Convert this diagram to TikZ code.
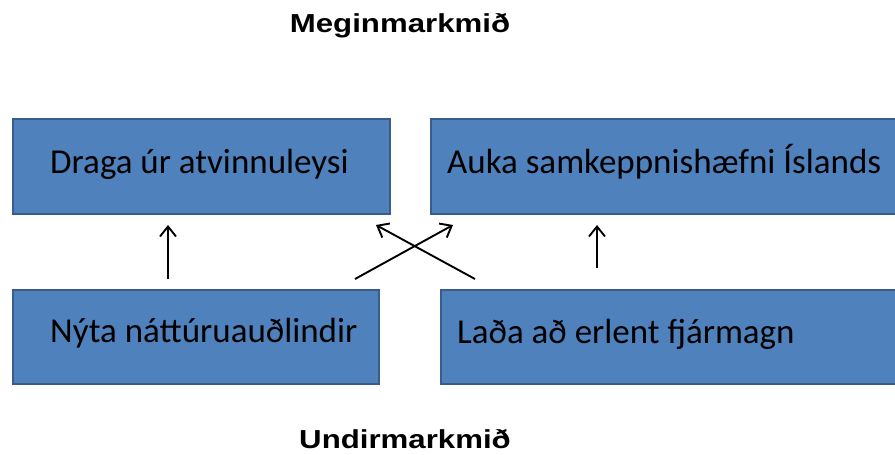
\documentclass[tikz,border=0pt]{standalone}
\usepackage{fontspec}
\setmainfont{Carlito}
\newfontfamily\titlefont[FakeStretch=1.2]{Liberation Sans}
\usetikzlibrary{arrows.meta}
\definecolor{boxfill}{HTML}{4F81BD}
\definecolor{boxline}{HTML}{385D8A}
\tikzset{arrow/.style = {line width=1.9pt,->,>={Straight Barb[length=10pt,width=16pt]}}}
\tikzset{goalbox/.style = {draw=boxline, fill=boxfill, line width=2pt, inner sep=0pt, anchor=north west}}
\tikzset{goaltext/.style = {anchor=base west, inner sep=0pt, font=\fontsize{35}{42}\selectfont}}
\tikzset{heading/.style = {anchor=base, inner sep=0pt, font=\titlefont\bfseries\fontsize{26}{31}\selectfont}}

\begin{document}
\begin{tikzpicture}[x=1pt,y=-1pt]
\useasboundingbox (0,0) rectangle (895,455);

\node[goalbox, minimum width=377pt, minimum height=95pt] (tl) at (12,118) {};
\node[goalbox, minimum width=470pt, minimum height=95pt] (tr) at (430,118) {};
\node[goalbox, minimum width=366pt, minimum height=94pt] (bl) at (12,289) {};
\node[goalbox, minimum width=460pt, minimum height=94pt] (br) at (440,289) {};

\node[goaltext] (tltext) at (50,173) {Draga úr atvinnuleysi};
\node[goaltext] (trtext) at (447,173) {Auka samkeppnishæfni Íslands};
\node[goaltext] (bltext) at (50,342) {Nýta náttúruauðlindir};
\node[goaltext] (brtext) at (457,343) {Laða að erlent fjármagn};

\node[heading] (top) at (400,32) {Meginmarkmið};
\node[heading] (bottom) at (405,448) {Undirmarkmið};

\draw[arrow, shorten <=10pt, shorten >=10pt] ([xshift=156pt]bl.north west) -- ([xshift=156pt]tl.south west);
\draw[arrow, shorten <=21pt, shorten >=10pt] ([xshift=157pt]br.north west) -- ([xshift=167pt]tr.south west);
\draw[arrow] ([xshift=343pt,yshift=10pt]bl.north west) -- ([xshift=23pt,yshift=-10pt]tr.south west);
\draw[arrow] ([xshift=35pt,yshift=10pt]br.north west) -- ([xshift=364pt,yshift=-10pt]tl.south west);
\end{tikzpicture}
\end{document}
